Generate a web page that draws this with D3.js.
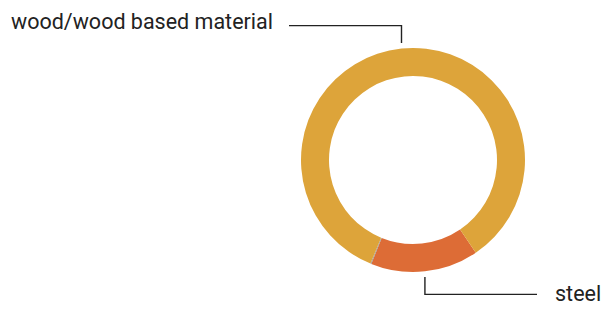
<!DOCTYPE html>
<html>
<head>
<meta charset="utf-8">
<script src="https://cdn.jsdelivr.net/npm/d3@7"></script>
<style>
  html, body { margin: 0; padding: 0; background: #fff; }
  svg { display: block; }
  text { font-family: Roboto, "Liberation Sans", sans-serif; fill: #222; }
</style>
</head>
<body>
<svg id="chart" width="605" height="309"></svg>
<script>
// Data (order as drawn clockwise from the start angle)
const categories = ["steel", "other", "wood/wood based material"];
const values = [15.55, 0.12, 84.33];
const colors = ["#DD6C36", "#9A9A9A", "#DDA43A"];
const labeled = ["steel", "wood/wood based material"];

const W = 605, H = 309;
const cx = 413, cy = 160, outerR = 112, innerR = 84;
const startDeg = 145.9;

const svg = d3.select("#chart");
const g = svg.append("g").attr("transform", `translate(${cx},${cy})`);

const data = categories.map((c, i) => ({ name: c, value: values[i], color: colors[i] }));

const pie = d3.pie()
  .sort(null)
  .value(d => d.value)
  .startAngle(startDeg * Math.PI / 180)
  .endAngle(startDeg * Math.PI / 180 + 2 * Math.PI);

const arc = d3.arc().innerRadius(innerR).outerRadius(outerR);
const arcs = pie(data);

g.selectAll("path.slice")
  .data(arcs)
  .join("path")
  .attr("class", "slice")
  .attr("d", arc)
  .attr("fill", d => d.data.color);

// Leader lines and labels
const lineColor = "#222";
arcs.forEach(a => {
  if (!labeled.includes(a.data.name)) return;
  const mid = (a.startAngle + a.endAngle) / 2;
  const x = outerR * Math.sin(mid);
  const yDir = -Math.cos(mid) < 0 ? -1 : 1; // up or down
  const y0 = yDir * (outerR + 5);
  const y1 = yDir * (outerR + 22.4);
  let xEnd, tx, anchor, ty;
  if (yDir < 0) {
    xEnd = 289 - cx; tx = 273 - cx; anchor = "end"; ty = y1 + 3.4;
  } else {
    xEnd = 537 - cx; tx = 555 - cx; anchor = "start"; ty = y1 + 6.5;
  }
  g.append("path")
    .attr("d", `M${x},${y0}V${y1}H${xEnd}`)
    .attr("fill", "none")
    .attr("stroke", lineColor)
    .attr("stroke-width", 1.4);
  g.append("text")
    .attr("x", tx)
    .attr("y", ty)
    .attr("text-anchor", anchor)
    .attr("font-size", 21.5)
    .text(a.data.name);
});
</script>
</body>
</html>
